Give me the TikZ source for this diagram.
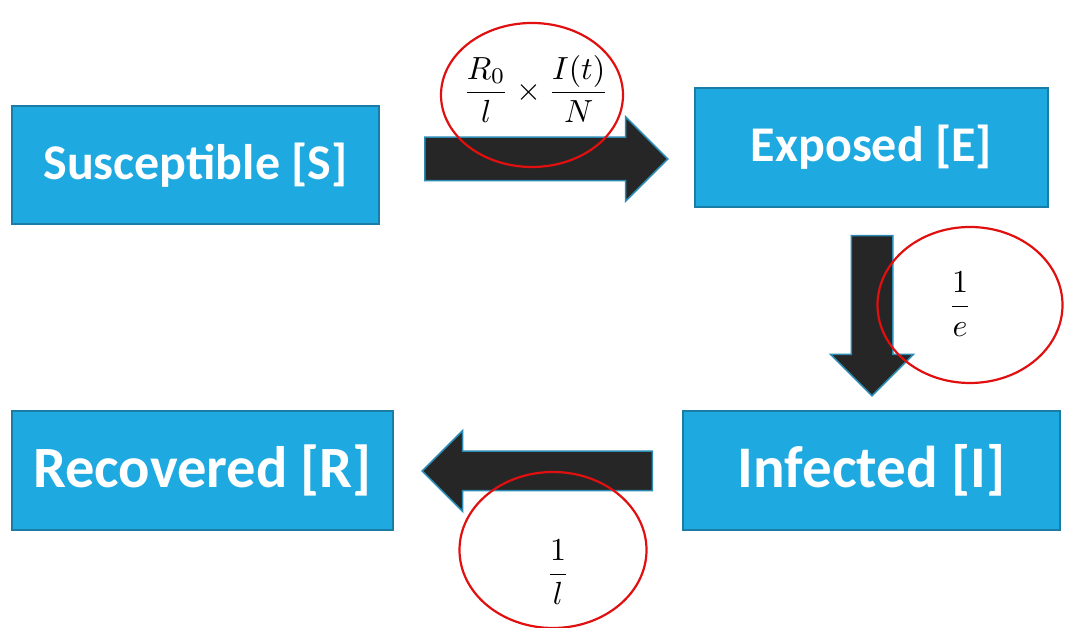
\documentclass[tikz,border=0pt]{standalone}
\usepackage{fontspec}
\setsansfont{Carlito}
\usetikzlibrary{shapes.arrows, shapes.geometric}

\definecolor{boxblue}{HTML}{1FA9E1}
\definecolor{boxedge}{HTML}{1A7DA6}
\definecolor{arrowdark}{HTML}{262626}
\definecolor{arrowedge}{HTML}{2B8BB3}
\definecolor{ringred}{HTML}{E01010}

\newcommand{\ratefrac}[1]{\scalebox{3.2}{$\displaystyle #1$}}

\tikzset{
  state/.style={draw=boxedge, line width=1.5pt, fill=boxblue, text=white,
    font=\sffamily\bfseries, inner sep=0pt},
  flow/.style={single arrow, draw=arrowedge, line width=1.5pt, fill=arrowdark,
    inner xsep=0pt, single arrow head extend=20.5pt, anchor=tail},
  ring/.style={ellipse, draw=ringred, line width=2.2pt, inner sep=0pt},
  ratelabel/.style={inner sep=0pt}
}

\begin{document}
\begin{tikzpicture}[x=1pt, y=1pt]
    \useasboundingbox (0,0) rectangle (1066,628);

    % compartments
    \node[state, minimum width=367pt, minimum height=118pt, font=\fontsize{50}{56}\sffamily\bfseries] (sus) at (195.5,463) {Susceptible [S]};
    \node[state, minimum width=353pt, minimum height=119pt, font=\fontsize{50}{56}\sffamily\bfseries] (exp) at (871.5,480.5) {Exposed [E]};
    \node[state, minimum width=377pt, minimum height=119pt, font=\fontsize{59}{64}\sffamily\bfseries] (inf) at (871.5,157.5) {Infected [I]};
    \node[state, minimum width=381pt, minimum height=119pt, font=\fontsize{58.5}{64}\sffamily\bfseries] (rec) at (202.5,157.5) {Recovered [R]};

    % transitions
    \node[flow, minimum height=243pt, inner ysep=21pt] (se) at (424,469) {};
    \node[flow, minimum height=160pt, inner ysep=20pt, rotate=-90] (ei) at (872,393) {};
    \node[flow, minimum height=230pt, inner ysep=19pt, rotate=180] (ir) at (653,157) {};

    % rates
    \node[ring, minimum width=182pt, minimum height=144pt] (rse) at (532,533) {};
    \node[ratelabel] (qse) at (536,539) {\ratefrac{\frac{R_0}{l}\times\frac{I(t)}{N}}};
    \node[ring, minimum width=185pt, minimum height=156pt] (rei) at (970,323) {};
    \node[ratelabel] (qei) at (960,324) {\ratefrac{\frac{1}{e}}};
    \node[ring, minimum width=187pt, minimum height=156pt] (rir) at (553,78) {};
    \node[ratelabel] (qir) at (558,56) {\ratefrac{\frac{1}{l}}};
\end{tikzpicture}
\end{document}
